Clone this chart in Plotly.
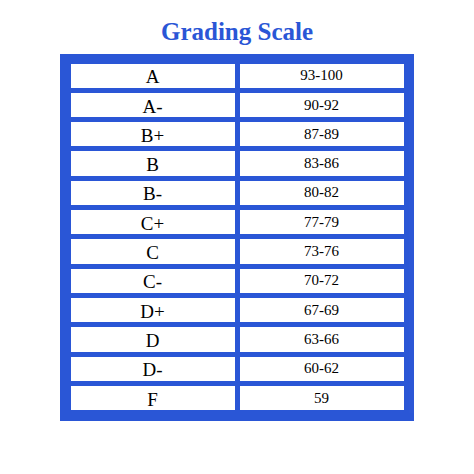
import plotly.graph_objects as go

grades = ["A", "A-", "B+", "B", "B-", "C+", "C", "C-", "D+", "D", "D-", "F"]
ranges = ["93-100", "90-92", "87-89", "83-86", "80-82", "77-79",
          "73-76", "70-72", "67-69", "63-66", "60-62", "59"]

blue = "#2a56d6"
W = H = 458  # page body adds an 8px margin
o = 8


def px(v):
    return (v - o) / W


def py(v):
    return 1 - (v - o) / H


fig = go.Figure(go.Table(
    domain=dict(x=[px(68), px(406)], y=[py(413), py(61)]),
    columnwidth=[1, 1],
    header=dict(values=[grades[0], ranges[0]], height=29.3,
                fill_color="white", line=dict(color=blue, width=5),
                align="center",
                font=dict(family=["Liberation Serif", "Liberation Serif"],
                          size=[19, 15], color="black")),
    cells=dict(values=[grades[1:], ranges[1:]], height=29.3,
               fill_color="white", line=dict(color=blue, width=5),
               align="center",
               font=dict(family=["Liberation Serif", "Liberation Serif"],
                         size=[19, 15], color="black")),
))

fig.add_shape(type="rect", xref="paper", yref="paper", layer="below",
              x0=px(60), x1=px(414), y0=py(421), y1=py(54),
              fillcolor=blue, line=dict(width=0))

fig.update_layout(
    width=W, height=H, margin=dict(l=0, r=0, t=0, b=0),
    paper_bgcolor="white",
    title=dict(text="<b>Grading Scale</b>", x=px(237), xanchor="center",
               y=py(31), yanchor="middle",
               font=dict(family="Liberation Serif", size=25, color=blue)),
)

fig.write_html("out.html")
